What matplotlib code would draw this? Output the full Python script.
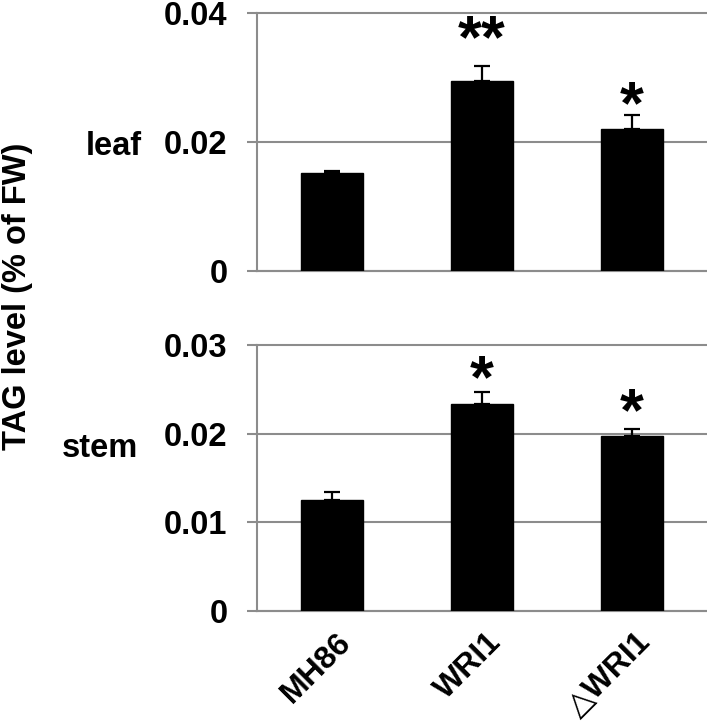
import matplotlib
matplotlib.use('Agg')
import matplotlib.pyplot as plt
import matplotlib.transforms as mtransforms

lines = ['MH86', 'WRI1', '△WRI1']
leaf_tag = [0.0152, 0.0295, 0.0220]
leaf_err = [0.0003, 0.0023, 0.0022]
leaf_stars = ['', '**', '*']
stem_tag = [0.0125, 0.0233, 0.0197]
stem_err = [0.0009, 0.0014, 0.0008]
stem_stars = ['', '*', '*']
leaf_ticks = [0, 0.02, 0.04]
stem_ticks = [0, 0.01, 0.02, 0.03]
leaf_tick_labels = ['0', '0.02', '0.04']
stem_tick_labels = ['0', '0.01', '0.02', '0.03']

plt.rcParams['font.family'] = ['Liberation Sans', 'DejaVu Sans']
plt.rcParams['font.weight'] = 'bold'

GRAY = '#8c8c8c'
W, H = 707, 726

fig = plt.figure(figsize=(W / 100, H / 100), dpi=100)
ax1 = fig.add_axes([257 / W, 1 - 271 / H, 450 / W, 258 / H])
ax2 = fig.add_axes([257 / W, 1 - 611 / H, 450 / W, 266 / H])


def draw_panel(ax, values, errs, stars, ticks, tick_labels, star_pads):
    x = range(len(values))
    ax.bar(x, values, width=0.41, color='black', edgecolor='black', zorder=3)
    ax.errorbar(x, values, yerr=[[0] * len(errs), errs], fmt='none',
                ecolor='black', elinewidth=1.6, capsize=6, capthick=1.6, zorder=4)
    for i, s in enumerate(stars):
        if s:
            ax.annotate(s, (i, values[i] + errs[i]), xytext=(0, star_pads[i]),
                        textcoords='offset points', ha='center', va='baseline',
                        fontsize=44, fontweight='bold')
    ax.set_xlim(-0.5, len(values) - 0.5)
    ax.set_ylim(ticks[0], ticks[-1])
    ax.set_yticks(ticks)
    ax.set_yticklabels(tick_labels, fontsize=23.5, fontweight='bold')
    ax.set_xticks([])
    ax.yaxis.grid(True, color=GRAY, linewidth=1.5, zorder=0)
    for gl in ax.get_ygridlines():
        gl.set_clip_on(False)
    ax.set_axisbelow(True)
    ax.tick_params(axis='y', length=7.2, width=1.5, color=GRAY, pad=14)
    for side in ['top', 'right']:
        ax.spines[side].set_visible(False)
    for side in ['left', 'bottom']:
        ax.spines[side].set_color(GRAY)
        ax.spines[side].set_linewidth(1.5)


draw_panel(ax1, leaf_tag, leaf_err, leaf_stars, leaf_ticks, leaf_tick_labels,
           [0, 6, -6])
draw_panel(ax2, stem_tag, stem_err, stem_stars, stem_ticks, stem_tick_labels,
           [0, -4, -1])

# category labels, rotated like the Excel axis
shift = mtransforms.ScaledTranslation(25 / 100, -16 / 100, fig.dpi_scale_trans)
for i, name in enumerate(lines):
    ax2.text(i, 0, name, transform=ax2.get_xaxis_transform() + shift,
             rotation=45, ha='right', va='top', fontsize=23, fontweight='bold')

fig.text(142 / W, 1 - 155 / H, 'leaf', ha='right', va='baseline',
         fontsize=23.5, fontweight='bold')
fig.text(138 / W, 1 - 457 / H, 'stem', ha='right', va='baseline',
         fontsize=23.5, fontweight='bold')
fig.text(18 / W, 1 - 296 / H, 'TAG level (% of FW)', rotation=90,
         ha='center', va='center', fontsize=23.5, fontweight='bold')

fig.savefig('out.png', dpi=100)
